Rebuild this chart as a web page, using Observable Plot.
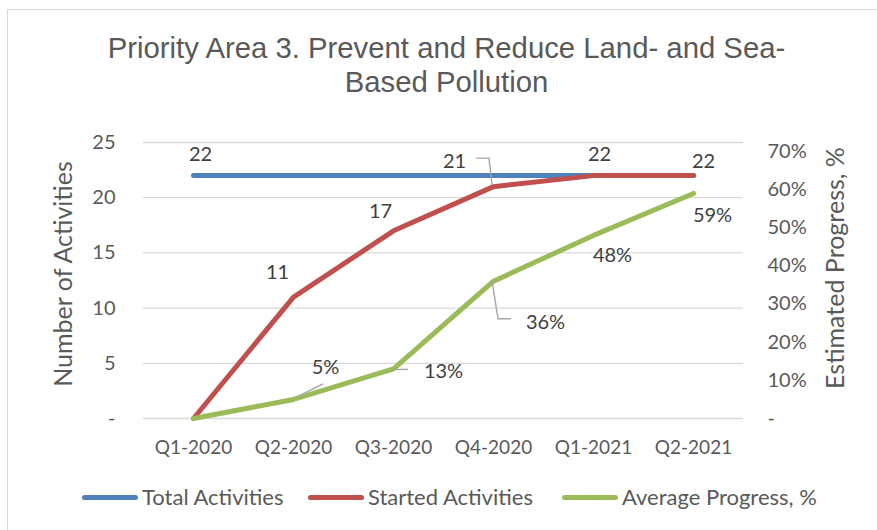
<!DOCTYPE html>
<html><head><meta charset="utf-8">
<script src="https://cdn.jsdelivr.net/npm/d3@7"></script>
<script src="https://cdn.jsdelivr.net/npm/@observablehq/plot@0.6"></script>
<style>
html,body{margin:0;padding:0;background:#fff;}
body{width:877px;height:530px;overflow:hidden;position:relative;font-family:Lato,sans-serif;}
#frame{position:absolute;left:7px;top:9px;width:900px;height:560px;border:1.5px solid #d9d9d9;box-sizing:border-box;}
#title{position:absolute;left:0;top:31px;width:893px;text-align:center;font-family:"Liberation Sans",Arial,sans-serif;font-size:29.3px;line-height:34px;color:#595959;white-space:nowrap;}
#chart{position:absolute;left:0;top:120px;}
.ytitle{position:absolute;white-space:nowrap;font-size:25px;color:#595959;transform:translate(-50%,-50%) rotate(-90deg);}
#legend{position:absolute;top:484px;left:0;width:877px;height:28px;font-size:22px;line-height:26px;color:#595959;}
.item{position:absolute;top:0;display:flex;align-items:center;white-space:nowrap;}
.swatch{width:56px;height:5px;border-radius:3px;margin-right:4px;}
</style></head>
<body>
<div id="frame"></div>
<div id="title">Priority Area 3. Prevent and Reduce Land- and Sea-<br>Based Pollution</div>
<div id="chart"></div>
<div class="ytitle" style="left:62px;top:274px;">Number of Activities</div>
<div class="ytitle" style="left:834px;top:268px;">Estimated Progress, %</div>
<div id="legend"></div>
<script>
const quarters = ["Q1-2020","Q2-2020","Q3-2020","Q4-2020","Q1-2021","Q2-2021"];
const totalActivities = [22,22,22,22,22,22];
const startedActivities = [0,11,17,21,22,22];
const averageProgress = [0,0.05,0.13,0.36,0.48,0.59];
const leftTicks = [0,5,10,15,20,25];
const rightTicks = [0,0.1,0.2,0.3,0.4,0.5,0.6,0.7];
const seriesNames = ["Total Activities","Started Activities","Average Progress, %"];
const seriesColors = ["#4f81bd","#c0504d","#9bbb59"];

const leftMax = 25, rightMax = 0.7236;
const k = leftMax / rightMax; // right-axis value -> left-axis units

const rows = [];
quarters.forEach((q,i)=>{
  rows.push({q, s:seriesNames[0], v:totalActivities[i], y:totalActivities[i], lab:String(totalActivities[i])});
  rows.push({q, s:seriesNames[1], v:startedActivities[i], y:startedActivities[i], lab:String(startedActivities[i])});
  rows.push({q, s:seriesNames[2], v:averageProgress[i], y:averageProgress[i]*k, lab:Math.round(averageProgress[i]*100)+"%"});
});
const pick = (s,q) => rows.filter(r=>r.s===s && r.q===q);

const labelFont = {fontSize:20, fill:"#404040", fontFamily:"Lato, sans-serif"};
function lab(s,q,dx,dy){
  return Plot.text(pick(s,q), {x:"q", y:"y", text:"lab", dx, dy, ...labelFont});
}
function leader(s,q,offs){
  return (index, scales) => {
    const r = pick(s,q)[0];
    const x0 = scales.x(r.q) + (scales.x.bandwidth ? scales.x.bandwidth()/2 : 0);
    const y0 = scales.y(r.y);
    const pts = offs.map(([dx,dy])=>[x0+dx,y0+dy]);
    return d3.create("svg:path").attr("d", d3.line()(pts)).attr("fill","none")
      .attr("stroke","#a6a6a6").attr("stroke-width",1.4).node();
  };
}

const chart = Plot.plot({
  width: 877, height: 340,
  marginLeft: 143, marginRight: 134, marginTop: 22, marginBottom: 42,
  style: {fontFamily:"Lato, sans-serif", fontSize:"19px", color:"#595959", background:"transparent"},
  x: {type:"point", domain: quarters, padding:0.5, label:null},
  y: {domain:[0,leftMax], label:null},
  color: {domain: seriesNames, range: seriesColors},
  marks: [
    Plot.gridY(leftTicks, {stroke:"#d9d9d9", strokeOpacity:1, strokeWidth:1.3}),
    Plot.axisX({tickSize:0, tickPadding:22, fontSize:19, label:null}),
    Plot.axisY(leftTicks, {tickSize:0, tickPadding:28, fontSize:20, label:null, tickFormat:d=>d===0?"-":String(d)}),
    Plot.axisY(rightTicks.map(p=>p*k), {anchor:"right", tickSize:0, tickPadding:24, fontSize:20, label:null,
      tickFormat:d=>{const p=Math.round(d/k*100); return p===0?"-":p+"%";}}),
    Plot.line(rows, {x:"q", y:"y", z:"s", stroke:"s", strokeWidth:5, strokeLinecap:"round", strokeLinejoin:"round"}),
    leader(seriesNames[1],"Q4-2020",[[-1,-1],[-4,-28],[-17,-28]]),
    leader(seriesNames[2],"Q2-2020",[[2,-1],[30,-15]]),
    leader(seriesNames[2],"Q3-2020",[[2,1],[15,1]]),
    leader(seriesNames[2],"Q4-2020",[[-1,0],[5,38],[18,38]]),
    lab(seriesNames[0],"Q1-2020",7,-21),
    lab(seriesNames[1],"Q2-2020",-16,-24),
    lab(seriesNames[1],"Q3-2020",-13,-19),
    lab(seriesNames[1],"Q4-2020",-39,-25),
    lab(seriesNames[1],"Q1-2021",6,-21),
    lab(seriesNames[1],"Q2-2021",10,-14),
    lab(seriesNames[2],"Q2-2020",32,-32),
    lab(seriesNames[2],"Q3-2020",50,3),
    lab(seriesNames[2],"Q4-2020",52,41),
    lab(seriesNames[2],"Q1-2021",19,20),
    lab(seriesNames[2],"Q2-2021",19,22)
  ]
});
document.getElementById("chart").appendChild(chart);

const legend = document.getElementById("legend");
const legendLeft = [82, 308, 562];
seriesNames.forEach((n,i)=>{
  const it = document.createElement("div"); it.className="item"; it.style.left = legendLeft[i]+"px";
  const sw = document.createElement("div"); sw.className="swatch"; sw.style.background=seriesColors[i];
  const tx = document.createElement("span"); tx.textContent=n;
  it.appendChild(sw); it.appendChild(tx); legend.appendChild(it);
});
</script>
</body></html>
